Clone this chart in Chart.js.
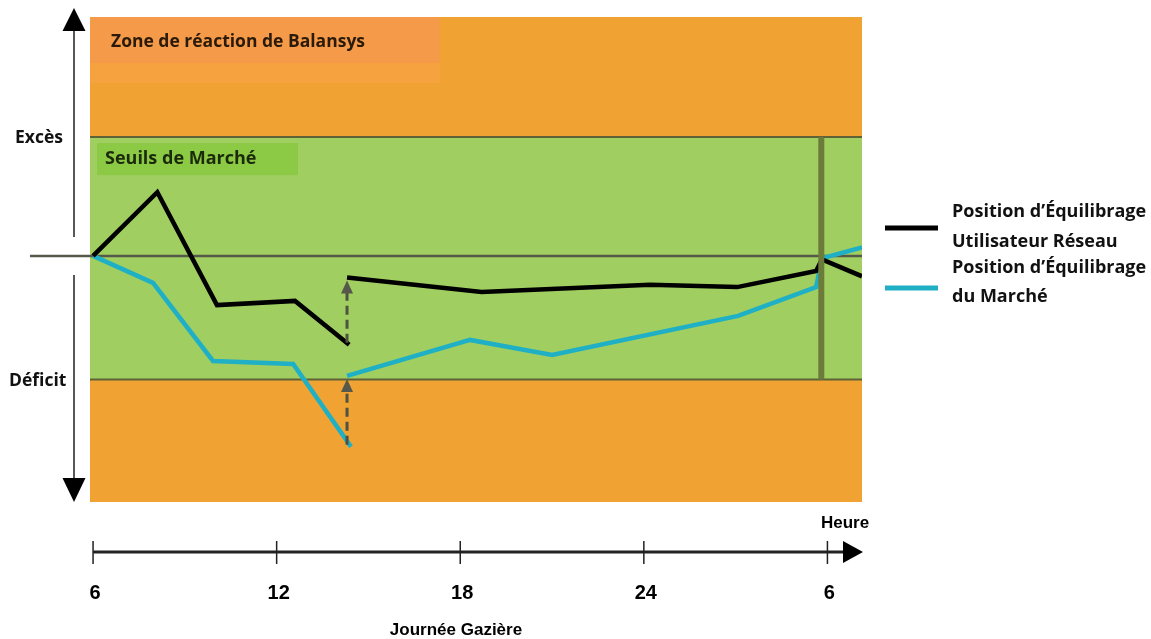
<!DOCTYPE html>
<html>
<head>
<meta charset="utf-8">
<script src="https://cdn.jsdelivr.net/npm/chart.js@4.4.1/dist/chart.umd.min.js"></script>
<style>
  body { margin: 0; background: #fff; }
</style>
</head>
<body>
<canvas id="chart1" width="1151" height="639"></canvas>
<script>
// heures de la journée gazière (6h -> 6h le lendemain = 30), null = rupture
let hoursUser = [6, 8.1, 10.05, 12.6, 14.37, 14.33, 14.3, 18.7, 24.2, 27.05, 29.63, 29.82, 31.13]
let posUser   = [0, 53, -41, -37.5, -74, null, -18, -30, -24, -26, -12.5, -3, -17]

let hoursMarket = [6, 7.96, 9.92, 12.54, 14.43, 14.36, 14.3, 18.32, 21.0, 27.08, 29.63, 29.82, 31.13]
let posMarket   = [0, -22.5, -87.5, -90, -159, null, -100, -70, -82.5, -50, -26, -2, 7]

// seuils de marché et zone de réaction
let seuilHaut = 99
let seuilBas = -103
let yMin = -205
let yMax = 199
let finJournee = 29.8

// axe du temps
let tickHours = [6, 12, 18, 24, 30]
let tickLabels = ['6', '12', '18', '24', '6']

let legendLabels = [
  ['Position d\u2019\u00C9quilibrage', 'Utilisateur R\u00E9seau'],
  ['Position d\u2019\u00C9quilibrage', 'du March\u00E9']
]
let lineColors = ['#000000', '#1FB0C6']

function toPoints(xs, ys) {
  let pts = []
  for (let i = 0; i < xs.length; i++) {
    pts.push({ x: xs[i], y: ys[i] })
  }
  return pts
}

function arrowHead(ctx, x, y, dir, half, len) {
  // dir: -1 = vers le haut, 1 = vers le bas, 2 = vers la droite
  ctx.beginPath()
  if (dir == 2) {
    ctx.moveTo(x, y)
    ctx.lineTo(x - len, y - half)
    ctx.lineTo(x - len, y + half)
  } else {
    ctx.moveTo(x, y)
    ctx.lineTo(x - half, y - dir * len)
    ctx.lineTo(x + half, y - dir * len)
  }
  ctx.closePath()
  ctx.fill()
}

const fond = {
  id: 'fond',
  beforeDatasetsDraw(chart) {
    const { ctx, chartArea: a, scales: { x, y } } = chart
    let w = a.right - a.left
    ctx.save()
    // zone de réaction (orange)
    ctx.fillStyle = '#F0A332'
    ctx.fillRect(a.left, a.top, w, a.bottom - a.top)
    ctx.fillStyle = '#F6A33F'
    ctx.fillRect(a.left, a.top, 350, 66)
    ctx.fillStyle = '#F49A49'
    ctx.fillRect(a.left, a.top, 350, 46)
    ctx.fillStyle = '#2a1a0a'
    ctx.font = 'bold 17.5px "Open Sans"'
    ctx.textBaseline = 'middle'
    ctx.fillText('Zone de r\u00E9action de Balansys', a.left + 21, a.top + 25)

    // seuils de marché (vert)
    let yUp = y.getPixelForValue(seuilHaut)
    let yDown = y.getPixelForValue(seuilBas)
    ctx.fillStyle = '#A0CE60'
    ctx.fillRect(a.left, yUp, w, yDown - yUp)
    ctx.fillStyle = '#8CC944'
    ctx.fillRect(a.left + 7, yUp + 6, 201, 32)
    ctx.fillStyle = '#1a2a0a'
    ctx.font = 'bold 18px "Open Sans"'
    ctx.fillText('Seuils de March\u00E9', a.left + 15, yUp + 22)

    ctx.strokeStyle = '#5E6236'
    ctx.lineWidth = 2
    ctx.beginPath()
    ctx.moveTo(a.left, yUp); ctx.lineTo(a.right, yUp)
    ctx.moveTo(a.left, yDown); ctx.lineTo(a.right, yDown)
    ctx.stroke()

    // ligne zéro
    let y0 = y.getPixelForValue(0)
    ctx.strokeStyle = '#55594A'
    ctx.lineWidth = 2.5
    ctx.beginPath()
    ctx.moveTo(30, y0); ctx.lineTo(a.right, y0)
    ctx.stroke()
    ctx.restore()
  },
  afterDatasetsDraw(chart) {
    const { ctx, chartArea: a, scales: { x, y } } = chart
    ctx.save()
    let yUp = y.getPixelForValue(seuilHaut)
    let yDown = y.getPixelForValue(seuilBas)

    // fin de journée
    let xf = x.getPixelForValue(finJournee)
    ctx.strokeStyle = '#6C7A3A'
    ctx.lineWidth = 6
    ctx.beginPath()
    ctx.moveTo(xf, yUp); ctx.lineTo(xf, yDown)
    ctx.stroke()

    // flèches pointillées (correction)
    let jumps = [[hoursUser, posUser], [hoursMarket, posMarket]]
    ctx.strokeStyle = '#4E5240'
    ctx.fillStyle = '#55584A'
    ctx.lineWidth = 3
    jumps.forEach(function (s) {
      let k = s[1].indexOf(null)
      let xa = x.getPixelForValue(s[0][k + 1])
      let yFrom = y.getPixelForValue(s[1][k - 1])
      let yTo = y.getPixelForValue(s[1][k + 1]) + 3
      ctx.setLineDash([9, 5])
      ctx.beginPath()
      ctx.moveTo(xa, yFrom - 2); ctx.lineTo(xa, yTo + 12)
      ctx.stroke()
      ctx.setLineDash([])
      arrowHead(ctx, xa, yTo, -1, 6, 13)
    })

    // axe vertical Excès / Déficit
    ctx.strokeStyle = '#222'
    ctx.fillStyle = '#000'
    ctx.lineWidth = 1.5
    ctx.beginPath()
    ctx.moveTo(74, 28); ctx.lineTo(74, 237)
    ctx.moveTo(74, 275); ctx.lineTo(74, 480)
    ctx.stroke()
    arrowHead(ctx, 74, 8, -1, 11.5, 23)
    arrowHead(ctx, 74, 502, 1, 11.5, 24)
    ctx.fillStyle = '#111'
    ctx.font = 'bold 17.5px "Open Sans"'
    ctx.textBaseline = 'middle'
    ctx.textAlign = 'left'
    ctx.fillText('Exc\u00E8s', 15, 138)
    ctx.fillText('D\u00E9ficit', 9, 381)

    // axe du temps
    let ya = 552
    let x6 = x.getPixelForValue(tickHours[0])
    ctx.strokeStyle = '#222'
    ctx.lineWidth = 3
    ctx.beginPath()
    ctx.moveTo(x6, ya); ctx.lineTo(846, ya)
    ctx.stroke()
    ctx.fillStyle = '#000'
    arrowHead(ctx, 863, ya, 2, 11, 20)
    ctx.lineWidth = 1.5
    ctx.font = 'bold 20px "Liberation Sans", Arial'
    ctx.textAlign = 'center'
    for (let i = 0; i < tickHours.length; i++) {
      let xt = x.getPixelForValue(tickHours[i])
      ctx.beginPath()
      ctx.moveTo(xt, 541); ctx.lineTo(xt, 564)
      ctx.stroke()
      ctx.fillText(tickLabels[i], xt + 2, 593)
    }
    ctx.font = 'bold 17px "Liberation Sans", Arial'
    ctx.fillText('Heure', 845, 523)
    ctx.fillText('Journ\u00E9e Gazi\u00E8re', 456, 630)

    // légende
    ctx.textAlign = 'left'
    ctx.font = 'bold 18px "Open Sans"'
    let ly = [228, 288]
    let ty = [[212, 242], [268, 297]]
    for (let i = 0; i < legendLabels.length; i++) {
      ctx.strokeStyle = lineColors[i]
      ctx.lineWidth = 5
      ctx.beginPath()
      ctx.moveTo(885, ly[i]); ctx.lineTo(938, ly[i])
      ctx.stroke()
      ctx.fillStyle = '#111'
      ctx.fillText(legendLabels[i][0], 952, ty[i][0])
      ctx.fillText(legendLabels[i][1], 952, ty[i][1])
    }
    ctx.restore()
  }
}

const config = {
  type: 'line',
  data: {
    datasets: [
      {
        label: 'Position d\u2019\u00C9quilibrage Utilisateur R\u00E9seau',
        data: toPoints(hoursUser, posUser),
        borderColor: lineColors[0],
        borderWidth: 4.5,
        pointRadius: 0,
        spanGaps: false,
        tension: 0
      },
      {
        label: 'Position d\u2019\u00C9quilibrage du March\u00E9',
        data: toPoints(hoursMarket, posMarket),
        borderColor: lineColors[1],
        borderWidth: 4.5,
        pointRadius: 0,
        spanGaps: false,
        tension: 0
      }
    ]
  },
  options: {
    responsive: false,
    animation: false,
    layout: { padding: { left: 90, right: 289, top: 17, bottom: 137 } },
    scales: {
      x: { type: 'linear', min: 5.9, max: 31.13, display: false },
      y: { min: yMin, max: yMax, display: false }
    },
    plugins: {
      legend: { display: false },
      tooltip: { enabled: false }
    }
  },
  plugins: [fond]
}

const myChart = new Chart(document.getElementById('chart1'), config)
</script>
</body>
</html>
